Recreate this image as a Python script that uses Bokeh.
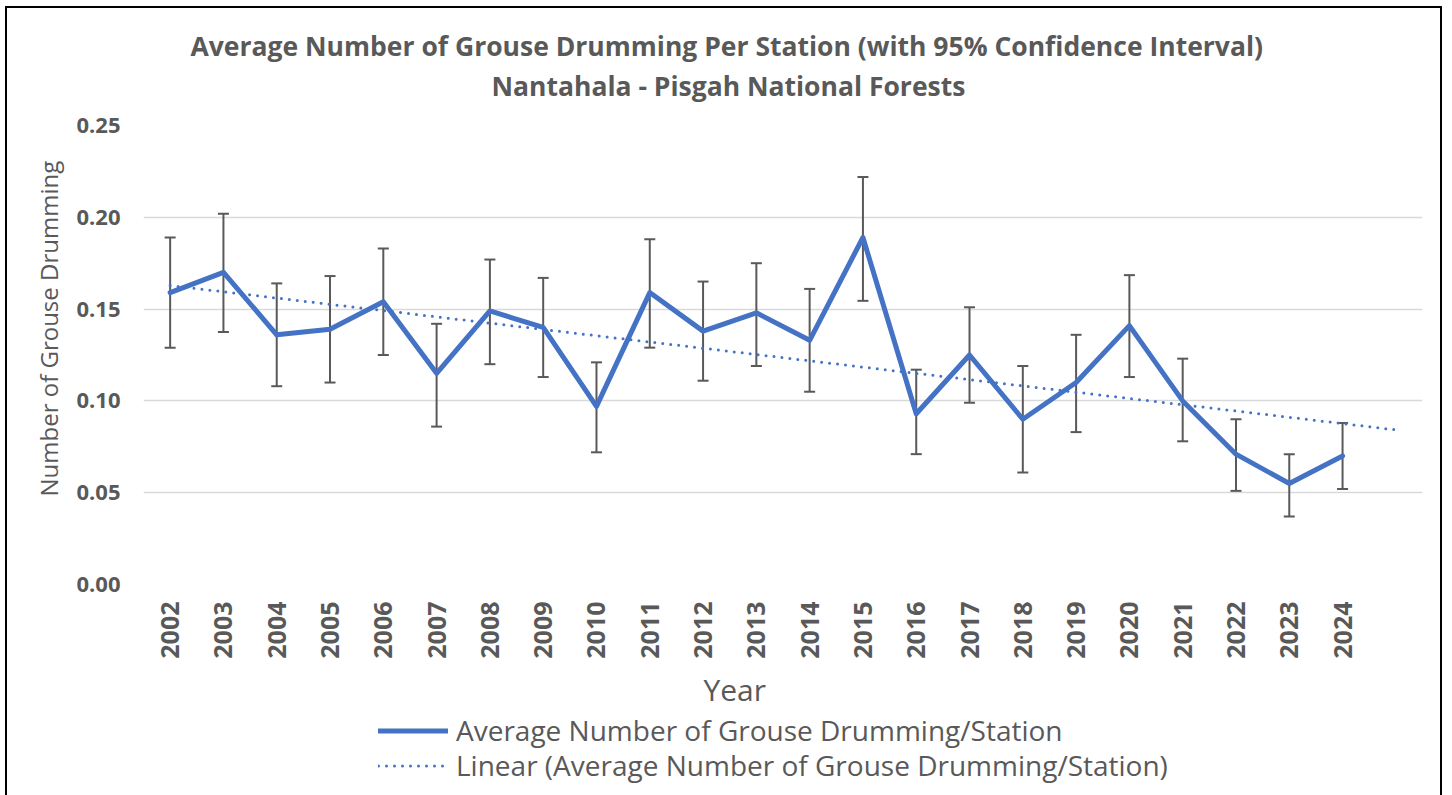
import numpy as np
from bokeh.plotting import figure
from bokeh.layouts import column
from bokeh.models import FixedTicker, Title, Legend, LegendItem
from bokeh.embed import file_html
from bokeh.resources import INLINE

years = [str(y) for y in range(2002, 2025)]
mean_drum = [0.159, 0.170, 0.136, 0.139, 0.154, 0.115, 0.149, 0.140, 0.097, 0.159, 0.138, 0.148,
             0.133, 0.189, 0.093, 0.125, 0.090, 0.110, 0.141, 0.100, 0.071, 0.055, 0.070]
upper_ci = [0.189, 0.202, 0.164, 0.168, 0.183, 0.142, 0.177, 0.167, 0.121, 0.188, 0.165, 0.175,
            0.161, 0.222, 0.117, 0.151, 0.119, 0.136, 0.1685, 0.123, 0.090, 0.071, 0.088]
lower_ci = [0.129, 0.1375, 0.108, 0.110, 0.125, 0.086, 0.120, 0.113, 0.072, 0.129, 0.111, 0.119,
            0.105, 0.1545, 0.071, 0.099, 0.061, 0.083, 0.113, 0.078, 0.051, 0.037, 0.052]
y_ticks = [0.0, 0.05, 0.10, 0.15, 0.20, 0.25]
y_tick_labels = ["0.00", "0.05", "0.10", "0.15", "0.20", "0.25"]

title_1 = "Average Number of Grouse Drumming Per Station (with 95% Confidence Interval)"
title_2 = "Nantahala - Pisgah National Forests"
x_title = "Year"
y_title = "Number of Grouse Drumming"
series_name = "Average Number of Grouse Drumming/Station"
trend_name = "Linear (Average Number of Grouse Drumming/Station)"

BLUE = "#4472C4"
GREY = "#595959"
FONT = "Open Sans"

xs = list(range(len(years)))

p = figure(width=1437, height=706, output_backend="svg", toolbar_location=None,
           x_range=(-0.5, len(years) + 0.5), y_range=(0, 0.25),
           min_border_left=136, min_border_right=22, min_border_top=117, min_border_bottom=126)
p.styles = {"border-top": "2px solid black", "border-left": "2px solid black",
            "border-right": "2px solid black", "box-sizing": "border-box",
            "margin-left": "5px", "margin-top": "6px"}
p.outline_line_color = None
p.background_fill_color = "white"
p.border_fill_color = "white"

# titles (first added sits closest to the plot); centred on the whole chart like the original
title_style = dict(align="left", text_font=FONT, text_font_size="26.5px",
                   text_font_style="bold", text_color=GREY)
p.add_layout(Title(text=title_2, standoff=44, offset=348, **title_style), "above")
p.add_layout(Title(text=title_1, standoff=-40, offset=47, **title_style), "above")

# axes
p.xaxis.ticker = FixedTicker(ticks=xs)
p.xaxis.major_label_overrides = {i: y for i, y in enumerate(years)}
p.xaxis.major_label_orientation = np.pi / 2
p.yaxis.ticker = FixedTicker(ticks=y_ticks)
p.yaxis.major_label_overrides = {t: l for t, l in zip(y_ticks, y_tick_labels)}
for ax in (p.xaxis, p.yaxis):
    ax.axis_line_color = None
    ax.major_tick_line_color = None
    ax.minor_tick_line_color = None
    ax.major_tick_out = 0
    ax.major_tick_in = 0
    ax.minor_tick_out = 0
    ax.major_label_text_font = FONT
    ax.major_label_text_font_style = "bold"
    ax.major_label_text_color = GREY
p.xaxis.major_label_text_font_size = "25px"
p.yaxis.major_label_text_font_size = "22px"
p.xaxis.major_label_standoff = 17
p.yaxis.major_label_standoff = 23

# x-axis title, centred on the whole chart like the original
p.add_layout(Title(text=x_title, align="left", offset=560, text_font=FONT,
                   text_font_size="30px", text_font_style="normal", text_color=GREY,
                   standoff=10), "below")
# y-axis title, shifted upward like the original (offset from frame bottom)
p.add_layout(Title(text=y_title, align="left", offset=88, text_font=FONT,
                   text_font_size="24px", text_font_style="normal", text_color=GREY,
                   standoff=17), "left")

p.xgrid.grid_line_color = None
p.ygrid.grid_line_color = "#D9D9D9"
p.ygrid.grid_line_width = 1.5

# error bars
p.segment(x0=xs, y0=lower_ci, x1=xs, y1=upper_ci, line_color=GREY, line_width=2)
p.scatter(x=xs + xs, y=lower_ci + upper_ci, marker="dash", size=11, line_color=GREY, line_width=2)

# main line
main_style = dict(line_color=BLUE, line_width=5, line_join="round", line_cap="round")
trend_style = dict(line_color=BLUE, line_width=3, line_dash="0 8", line_cap="round")
p.line(x=xs, y=mean_drum, **main_style)

# linear trendline (least-squares fit, forward 1 period)
slope, intercept = np.polyfit(xs, mean_drum, 1)
tx = [0, len(years)]
ty = [intercept + slope * t for t in tx]
p.line(x=tx, y=ty, **trend_style)

# legend strip below the chart (its series lie outside this strip's visible range,
# only the legend swatches show)
leg = figure(width=1437, height=83, output_backend="svg", toolbar_location=None,
             x_range=(-100, -99), y_range=(0, 1), min_border=0)
leg.styles = {"border-left": "2px solid black", "border-right": "2px solid black",
              "box-sizing": "border-box", "margin-left": "5px"}
leg.axis.visible = False
leg.grid.visible = False
leg.outline_line_color = None
leg.background_fill_color = "white"
leg.border_fill_color = "white"
r_main = leg.line(x=xs, y=mean_drum, **main_style)
r_trend = leg.line(x=tx, y=ty, **trend_style)
common = dict(orientation="vertical", label_text_font=FONT, label_text_font_size="28px",
              label_text_color=GREY, glyph_width=70, glyph_height=35, label_height=35,
              label_standoff=8, spacing=0, padding=0, margin=0, border_line_color=None,
              background_fill_alpha=0)
leg1 = Legend(items=[LegendItem(label=series_name, renderers=[r_main])], location=(235, 46), **common)
leg2 = Legend(items=[LegendItem(label=trend_name, renderers=[r_trend])], location=(235, 11), **common)
leg.add_layout(leg1, "center")
leg.add_layout(leg2, "center")

layout = column(p, leg, spacing=0)
open("out.html", "w").write(file_html(layout, INLINE))
